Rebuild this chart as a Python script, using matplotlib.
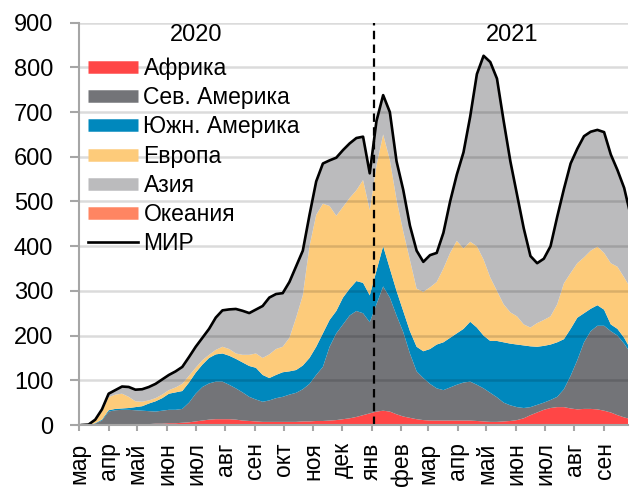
import numpy as np
import pandas as pd
import matplotlib
matplotlib.use("Agg")
import matplotlib.pyplot as plt
import matplotlib.transforms as mtransforms
from matplotlib.lines import Line2D

plt.rcParams['font.family'] = ['Liberation Sans', 'DejaVu Sans']

# weekly observations starting 4 March 2020
dates = pd.date_range('2020-03-04', periods=83, freq='7D')

africa = [0, 0, 0, 0, 0.5, 1, 1, 1, 1.5, 2,
          2, 3, 3, 4, 4, 5, 6, 8, 10, 12,
          13, 13, 13, 12, 10, 9, 8, 7, 7, 7,
          7, 7, 7, 8, 8, 9, 9, 10, 11, 13,
          15, 18, 22, 26, 30, 32, 30, 24, 19, 16,
          13, 11, 10, 10, 10, 10, 10, 10, 10, 9,
          8, 7, 7, 8, 9, 11, 15, 22, 28, 34,
          38, 40, 40, 37, 35, 36, 36, 35, 32, 28,
          22, 17, 13]
namerica = [0, 0, 3, 10, 29.5, 32, 33, 33, 31.5, 30,
            29, 27, 29, 30, 30, 31, 44, 62, 75, 81,
            84, 84, 77, 70, 63, 54, 49, 45, 48, 53,
            56, 61, 65, 72, 84, 103, 121, 165, 194, 212,
            230, 237, 228, 204, 240, 278, 255, 221, 189, 144,
            107, 94, 82, 72, 68, 74, 80, 85, 87, 81,
            74, 65, 55, 42, 35, 29, 23, 18, 17, 16,
            18, 23, 40, 73, 110, 149, 174, 187, 190, 182,
            178, 165, 147]
samerica = [0, 0, 1, 2, 3, 3, 3, 4, 7, 10,
            17, 23, 28, 36, 39, 40, 45, 47, 50, 57,
            61, 63, 65, 66, 67, 69, 71, 60, 50, 52,
            55, 52, 51, 53, 58, 63, 75, 60, 50, 60,
            60, 67, 68, 60, 75, 90, 65, 55, 47, 50,
            55, 60, 78, 98, 107, 111, 115, 120, 134, 128,
            118, 116, 126, 135, 138, 140, 140, 136, 130, 127,
            124, 122, 112, 105, 95, 65, 50, 46, 36, 15,
            15, 13, 8]
europe = [0, 1, 6, 18, 29, 32, 33, 25, 13, 10,
          7, 7, 8, 8, 11, 16, 15, 11, 10, 7,
          10, 15, 15, 12, 17, 25, 32, 38, 53, 58,
          57, 75, 117, 157, 250, 295, 290, 255, 213, 203,
          203, 203, 230, 191, 235, 250, 243, 204, 178, 159,
          130, 133, 138, 140, 165, 190, 207, 180, 179, 182,
          170, 142, 112, 85, 70, 63, 47, 42, 53, 58,
          63, 85, 125, 125, 122, 125, 130, 131, 127, 137,
          139, 135, 137]
asia = [0, 0, 2, 5, 8, 10, 16, 22, 26, 28,
        30, 32, 34, 34, 36, 38, 42, 47, 50, 58,
        72, 81, 88, 99, 98, 93, 98, 116, 127, 123,
        120, 125, 115, 100, 70, 75, 90, 102, 130, 127,
        122, 117, 97, 82, 100, 88, 107, 86, 93, 77,
        85, 67, 72, 65, 80, 115, 148, 215, 280, 385,
        456, 482, 475, 410, 338, 272, 215, 160, 134, 137,
        157, 196, 211, 245, 256, 271, 266, 261, 270, 243,
        216, 200, 161]
oceania = [0, 0, 0, 0, 0.1, 0.1, 0.1, 0.1, 0, 0,
           0, 0, 0, 0, 0, 0, 0, 0, 0, 0.1,
           0.3, 0.5, 0.6, 0.6, 0.5, 0.4, 0.3, 0.2, 0.1, 0,
           0, 0, 0, 0, 0, 0, 0, 0, 0, 0,
           0, 0, 0, 0, 0, 0, 0, 0, 0, 0,
           0, 0, 0, 0, 0, 0, 0, 0, 0, 0,
           0, 0, 0, 0, 0, 0, 0, 0, 0, 0,
           0, 0, 0, 0, 0, 0.1, 0.1, 0.2, 0.2, 0.2,
           0.2, 0.3, 0.3]

series_names = ['Африка', 'Сев. Америка', 'Южн. Америка', 'Европа', 'Азия', 'Океания']
series_colors = ['#ff4646', '#737478', '#0088bd', '#fdcb7a', '#bbbbbd', '#ff8562']
world_name = 'МИР'

month_labels = ['мар', 'апр', 'май', 'июн', 'июл', 'авг', 'сен', 'окт', 'ноя', 'дек',
                'янв', 'фев', 'мар', 'апр', 'май', 'июн', 'июл', 'авг', 'сен']
month_ticks = pd.date_range('2020-03-01', periods=len(month_labels), freq='MS')
year_labels = ['2020', '2021']
year_label_pos = [pd.Timestamp('2020-07-01'), pd.Timestamp('2021-05-28')]
year_break = pd.Timestamp('2021-01-03')

regions = [africa, namerica, samerica, europe, asia, oceania]
world = np.sum(np.array(regions, dtype=float), axis=0)

fig = plt.figure(figsize=(6.3, 4.88), dpi=100)
ax = fig.add_axes([79 / 630, 1 - 425 / 488, (628 - 79) / 630, (425 - 22.7) / 488])

ax.stackplot(dates, *regions, colors=series_colors, linewidth=0, zorder=2)
ax.plot(dates, world, color='black', lw=1.9, zorder=4)
ax.axvline(year_break, color='black', lw=1.6, ls=(0, (3.8, 2.4)), zorder=5)

ax.set_xlim(pd.Timestamp('2020-03-01'), pd.Timestamp('2021-09-26'))
ax.set_ylim(0, 900)
ax.set_yticks(range(0, 901, 100))
ax.yaxis.grid(True, color='black', alpha=0.14, lw=1.8, zorder=3)
ax.set_axisbelow(False)

ax.set_xticks(month_ticks)
ax.set_xticklabels(month_labels, rotation=90, fontsize=16.5, va='top', ha='center')
offset = mtransforms.ScaledTranslation(3 / 100, 0, fig.dpi_scale_trans)
for lbl in ax.get_xticklabels():
    lbl.set_transform(lbl.get_transform() + offset)

for s in ['top', 'right']:
    ax.spines[s].set_visible(False)
for s in ['left', 'bottom']:
    ax.spines[s].set_color('#a6a6a6')
    ax.spines[s].set_linewidth(1.5)
    ax.spines[s].set_zorder(6)
ax.tick_params(axis='y', length=6.5, width=1.5, color='#a6a6a6', pad=12, labelsize=17)
ax.tick_params(axis='x', length=4.5, width=1.5, color='#a6a6a6', pad=8)

for lab, pos in zip(year_labels, year_label_pos):
    ax.text(pos, 872, lab, fontsize=17, ha='center', va='center', zorder=7)

handles = [Line2D([0], [0], color=c, lw=9, solid_capstyle='butt') for c in series_colors]
handles.append(Line2D([0], [0], color='black', lw=1.9))
labels = series_names + [world_name]
leg = ax.legend(handles, labels, loc='upper left', bbox_to_anchor=(88 / 630, 1 - 57 / 488),
                bbox_transform=fig.transFigure, frameon=False, fontsize=16.5,
                handlelength=2.2, handletextpad=0.22, labelspacing=0.27, borderpad=0,
                borderaxespad=0)
leg.set_zorder(8)

fig.savefig('out.png', dpi=100)
